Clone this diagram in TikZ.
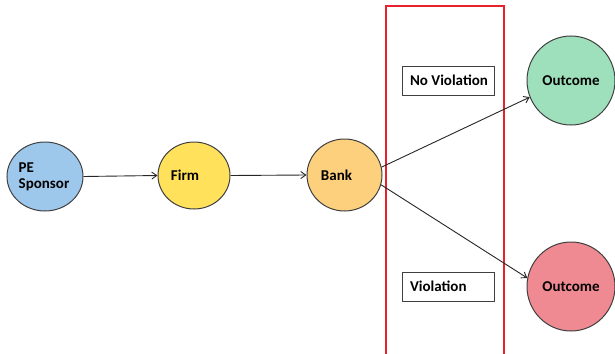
\documentclass[tikz,border=0pt]{standalone}
\usepackage{fontspec}
\setmainfont{Carlito}
\usetikzlibrary{arrows.meta,shapes.geometric}

\definecolor{peblue}{HTML}{9DC8EC}
\definecolor{firmyellow}{HTML}{FFE15C}
\definecolor{bankorange}{HTML}{FDD07E}
\definecolor{outgreen}{HTML}{9EE0BC}
\definecolor{outred}{HTML}{F08A92}
\definecolor{boxred}{HTML}{E8222C}

\begin{document}
\begin{tikzpicture}[x=1pt,y=-1pt,
	every node/.style={font=\bfseries\fontsize{15}{16}\selectfont,text=black},
	blob/.style={ellipse,draw=black!75,line width=1pt,inner sep=0pt},
	tag/.style={rectangle,draw=black!75,line width=0.9pt,minimum width=92pt,minimum height=29pt,inner sep=0pt},
	flow/.style={draw=black!85,line width=0.9pt,-{Straight Barb[length=5pt,width=7pt]}}]
			\useasboundingbox (0,0) rectangle (615,353);
			\node[blob,fill=peblue,minimum width=76pt,minimum height=69pt,
				label={[align=left,xshift=-1pt]center:PE\\Sponsor}] (pe) at (45,176.5) {};
			\node[blob,fill=firmyellow,minimum width=72pt,minimum height=67pt,
				label={[xshift=-9pt]center:Firm}] (firm) at (194,175.5) {};
			\node[blob,fill=bankorange,minimum width=75pt,minimum height=72pt,
				label={[xshift=-8pt]center:Bank}] (bank) at (344.5,175) {};
			\node[blob,fill=outgreen,minimum width=88pt,minimum height=89pt] (good) at (571,80.5) {Outcome};
			\node[blob,fill=outred,minimum width=88pt,minimum height=89pt] (bad) at (571,286.5) {Outcome};
			
			\draw[boxred,line width=2pt] (386,6) rectangle (504,365);
			\node[tag] (noviol) at (448,80.5) {};
			\node[anchor=west] at ([xshift=5pt]noviol.west) {No Violation};
			\node[tag] (viol) at (448,286.5) {};
			\node[anchor=west] at ([xshift=5pt]viol.west) {Violation};
			
			\draw[flow] (pe.east)--(firm.west);
			\draw[flow] (firm.east)--(bank.west);
			\draw[flow] (bank.12)--(good.202);
			\draw[flow] (bank.-15)--(bad.169);
		\end{tikzpicture}
\end{document}
